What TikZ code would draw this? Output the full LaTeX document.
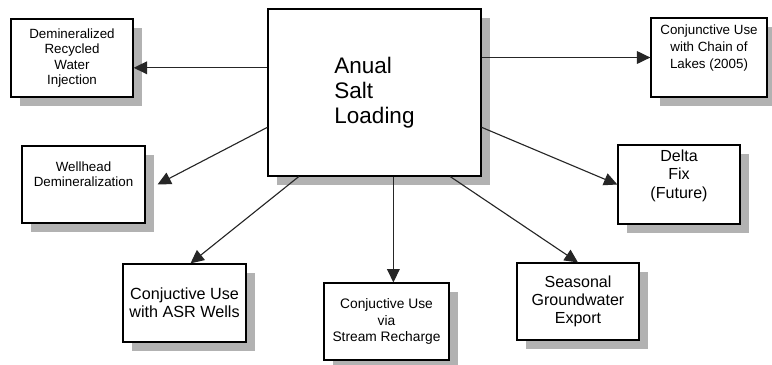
\documentclass[tikz,border=0pt]{standalone}
\usepackage{fontspec}
\setmainfont{Liberation Sans}
\usepackage{tikz}
\usetikzlibrary{calc,positioning,arrows.meta,shadows}

\begin{document}
\begin{tikzpicture}[x=0.025cm,y=-0.025cm]

\tikzstyle{box}=[draw, line width=0.9pt, fill=white, align=center, inner sep=2pt,
                 drop shadow={shadow xshift=0.22cm, shadow yshift=-0.22cm,
                              fill=black!30, opacity=1}]
\tikzstyle{flow}=[line width=0.8pt, draw=black!85,
                  -{Triangle[length=9.5pt,width=9pt]}]

\useasboundingbox (0,0) rectangle (772,364);

% boxes (pixel coordinates of the original, y downwards)
\node[box, minimum width=3.05cm, minimum height=1.95cm,
      font=\fontsize{9.5}{11}\selectfont] (inj) at (72,58)
      {Demineralized\\Recycled\\Water\\Injection};
\node[box, minimum width=5.32cm, minimum height=4.17cm, align=left,
      font=\fontsize{16}{18}\selectfont] (salt) at (374.5,92.5)
      {Anual\\Salt\\Loading};
\node[box, minimum width=2.9cm, minimum height=1.97cm,
      font=\fontsize{9.5}{12}\selectfont] (lakes) at (709,57.5)
      {Conjunctive Use\\with Chain of\\Lakes (2005)\\[3pt]};
\node[box, minimum width=3.07cm, minimum height=1.92cm,
      font=\fontsize{9.5}{11}\selectfont] (well) at (83.5,184.5)
      {Wellhead\\Demineralization\\[4pt]};
\node[box, minimum width=3.05cm, minimum height=1.97cm,
      font=\fontsize{11.4}{13}\selectfont] (delta) at (679,184.5)
      {Delta\\Fix\\(Future)\\[2pt]};
\node[box, minimum width=3.07cm, minimum height=1.95cm,
      font=\fontsize{11.5}{13}\selectfont] (asr) at (184.5,303)
      {Conjuctive Use\\with ASR Wells};
\node[box, minimum width=3.12cm, minimum height=1.92cm,
      font=\fontsize{9.8}{11.7}\selectfont] (stream) at (386.5,321.5)
      {Conjuctive Use\\via\\Stream Recharge};
\node[box, minimum width=3.05cm, minimum height=1.92cm,
      font=\fontsize{11.4}{13}\selectfont] (export) at (578,301.5)
      {Seasonal\\Groundwater\\Export};

% arrows out of the centre box
\draw[flow] (salt.167) -- (salt.167 -| inj.east);
\draw[flow] (salt.east |- lakes.west) -- (lakes.west);
\draw[flow] (salt.198) -- ([xshift=3mm]well.east);
\draw[flow] (salt.-18) -- (delta.west);
\draw[flow] (salt.228) -- ([xshift=1.5mm]asr.north);
\draw[flow] (salt.south -| stream.80) -- (stream.80);
\draw[flow] (salt.-48) -- (export.north);

\end{tikzpicture}
\end{document}
